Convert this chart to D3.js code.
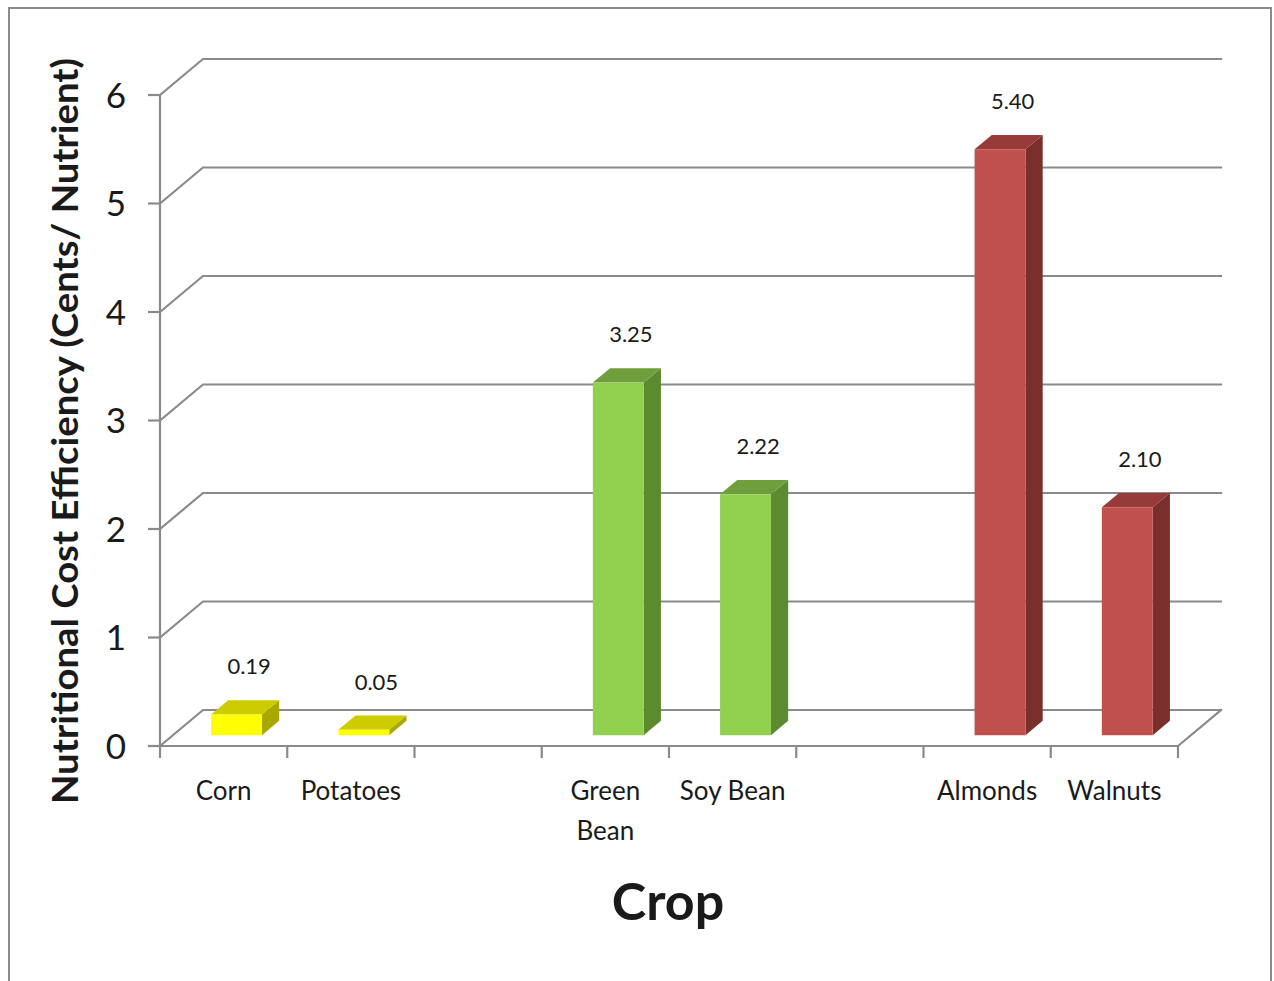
<!DOCTYPE html>
<html>
<head>
<meta charset="utf-8">
<script src="https://cdn.jsdelivr.net/npm/d3@7"></script>
<style>
  html, body { margin: 0; padding: 0; background: #fff; }
  svg { display: block; }
  text { font-family: Lato, "Open Sans", sans-serif; fill: #1a1a1a; }
</style>
</head>
<body>
<svg id="chart" width="1274" height="981"></svg>
<script>
// Nutritional cost efficiency per crop (cents per nutrient)
const crops      = ["Corn", "Potatoes", "", "Green Bean", "Soy Bean", "", "Almonds", "Walnuts"];
const efficiency = [0.19, 0.05, null, 3.25, 2.22, null, 5.40, 2.10];
const cropGroup  = ["grain", "grain", "", "legume", "legume", "", "nut", "nut"];
const yTicks     = [0, 1, 2, 3, 4, 5, 6];
const yTitle     = "Nutritional Cost Efficiency (Cents/ Nutrient)";
const xTitle     = "Crop";

// face shading for each group: front, top, side
const palette = {
  grain:  { front: "#ffff00", top: "#cccc00", side: "#a8a800" },
  legume: { front: "#92d050", top: "#6f9e3c", side: "#5c8a2e" },
  nut:    { front: "#c0504d", top: "#963b39", side: "#7a2f2d" }
};

const svg = d3.select("#chart");
const W = 1274, H = 981;

// plot box (front plane) and oblique depth of the 3-D walls
const left = 160, right = 1178, base = 746, topY = 95;
const depthX = 43, depthY = -36;
const barDepth0 = 0.3, barDepth1 = 0.7;   // bars sit mid-way across the floor
const gridColor = "#8a8a8a";

const x = d3.scaleBand().domain(d3.range(crops.length)).range([left, right]).padding(0);
const y = d3.scaleLinear().domain([0, 6]).range([base, topY]);

// project (px, value, depth fraction) onto the page
const P = (px, v, d) => [px + d * depthX, y(v) + d * depthY];

// outer frame
svg.append("rect")
  .attr("x", 9).attr("y", 8).attr("width", 1262).attr("height", 1000)
  .attr("fill", "#fff").attr("stroke", "#8c8c8c").attr("stroke-width", 2);

const walls = svg.append("g")
  .attr("fill", "none").attr("stroke", gridColor).attr("stroke-width", 2.2)
  .attr("stroke-linecap", "square");

// gridlines on the left wall and back wall
yTicks.forEach(v => {
  const a = P(left, v, 0), b = P(left, v, 1), c = P(right, v, 1);
  walls.append("path").attr("d", d3.line()([a, b, c]));
});

// floor: front edge and right edge
walls.append("path").attr("d", d3.line()([P(left, 0, 0), P(right, 0, 0), P(right, 0, 1)]));

// value axis line
walls.append("line")
  .attr("x1", left).attr("x2", left).attr("y1", y(6)).attr("y2", y(0));

// value axis ticks and labels
const yAxis = svg.append("g");
yTicks.forEach(v => {
  yAxis.append("line")
    .attr("x1", left - 12).attr("x2", left).attr("y1", y(v)).attr("y2", y(v))
    .attr("stroke", gridColor).attr("stroke-width", 2.2);
  yAxis.append("text")
    .attr("x", left - 34).attr("y", y(v)).attr("dy", "0.36em")
    .attr("text-anchor", "end")
    .attr("font-size", 35)
    .text(d3.format("d")(v));
});

// category ticks at slot boundaries
const bounds = d3.range(crops.length).map(i => x(i)).concat([right]);
bounds.forEach(bx => {
  svg.append("line")
    .attr("x1", bx).attr("x2", bx).attr("y1", base).attr("y2", base + 12)
    .attr("stroke", gridColor).attr("stroke-width", 2.2);
});

// category labels, wrapped when wider than the slot
const catG = svg.append("g");
crops.forEach((name, i) => {
  if (!name) return;
  const cx = x(i) + x.bandwidth() / 2;
  const t = catG.append("text")
    .attr("x", cx).attr("y", 800)
    .attr("text-anchor", "middle")
    .attr("font-size", 26)
    .text(name);
  if (t.node().getComputedTextLength() > x.bandwidth() * 0.88) {
    const words = name.split(" ");
    t.text(null);
    words.forEach((w, k) => {
      t.append("tspan").attr("x", cx).attr("dy", k === 0 ? 0 : 40).text(w);
    });
  }
});

// 3-D columns
const bw = x.bandwidth() * 0.4;
const bars = svg.append("g");
efficiency.forEach((v, i) => {
  if (v == null) return;
  const c = palette[cropGroup[i]];
  const x0 = x(i) + (x.bandwidth() - bw) / 2, x1 = x0 + bw;
  const fbl = P(x0, 0, barDepth0), fbr = P(x1, 0, barDepth0);
  const ftl = P(x0, v, barDepth0), ftr = P(x1, v, barDepth0);
  const bbr = P(x1, 0, barDepth1), btl = P(x0, v, barDepth1), btr = P(x1, v, barDepth1);
  const poly = pts => "M" + pts.map(p => p.join(",")).join("L") + "Z";
  bars.append("path").attr("d", poly([ftr, fbr, bbr, btr])).attr("fill", c.side);
  bars.append("path").attr("d", poly([ftl, ftr, btr, btl])).attr("fill", c.top);
  bars.append("path").attr("d", poly([ftl, fbl, fbr, ftr])).attr("fill", c.front);
});

// value labels above the columns
const labG = svg.append("g");
efficiency.forEach((v, i) => {
  if (v == null) return;
  const mid = (barDepth0 + barDepth1) / 2;
  const [lx, ly] = P(x(i) + x.bandwidth() / 2, v, mid);
  labG.append("text")
    .attr("x", lx + 4).attr("y", ly - 33)
    .attr("text-anchor", "middle")
    .attr("font-size", 22)
    .text(d3.format(".2f")(v));
});

// axis titles
svg.append("text")
  .attr("x", 668).attr("y", 920)
  .attr("text-anchor", "middle")
  .attr("font-size", 52).attr("font-weight", 700)
  .attr("fill", "#000")
  .text(xTitle);

svg.append("text")
  .attr("transform", "translate(78,431) rotate(-90)")
  .attr("text-anchor", "middle")
  .attr("font-size", 37).attr("font-weight", 700)
  .attr("fill", "#000")
  .attr("textLength", 746).attr("lengthAdjust", "spacingAndGlyphs")
  .text(yTitle);
</script>
</body>
</html>
